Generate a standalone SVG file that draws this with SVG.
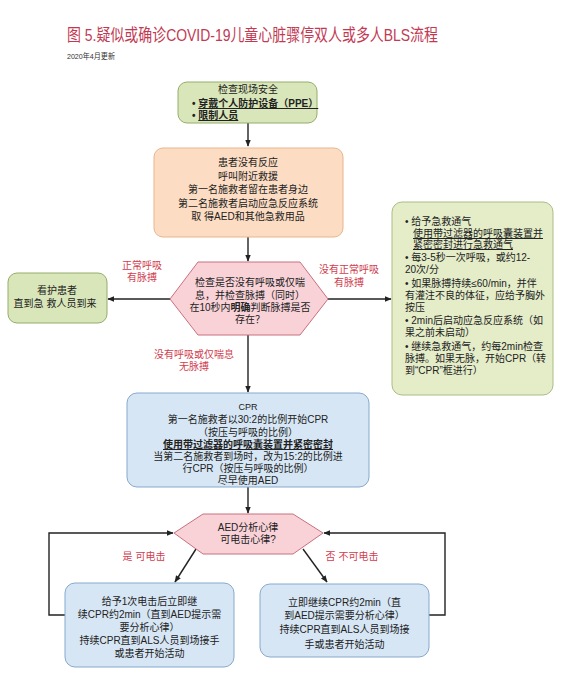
<svg xmlns="http://www.w3.org/2000/svg" width="564" height="691" viewBox="0 0 564 691">
<style>
text{font-family:"Liberation Sans","Noto Sans CJK SC",sans-serif;fill:#222;font-size:10px}
.c{text-anchor:middle}
.red{fill:#d0404f;font-size:10px}
.b{font-weight:bold}
.u{text-decoration:underline}
.green{fill:#d9e6b9;stroke:#94ad6a;stroke-width:1}
.green2{fill:#e4ecc8;stroke:#a9bd84;stroke-width:1}
.orange{fill:#fcdcc2;stroke:#eab58a;stroke-width:1}
.blue{fill:#d6e6f4;stroke:#86a9cd;stroke-width:1}
.pink{fill:#f9d2d8;stroke:#c8707e;stroke-width:1}
.con{fill:none;stroke:#222;stroke-width:1.4}
</style>
<defs>
<marker id="ah" viewBox="0 0 10 10" refX="9" refY="5" markerWidth="7" markerHeight="7" orient="auto" markerUnits="userSpaceOnUse">
<path d="M0,1 L10,5 L0,9 z" fill="#222"/>
</marker>
</defs>
<rect width="564" height="691" fill="#ffffff"/>
<g id="title">
<text x="67" y="41" style="font-size:17px;fill:#c23a52" textLength="371" lengthAdjust="spacingAndGlyphs">图 5.疑似或确诊COVID-19儿童心脏骤停双人或多人BLS流程</text>
<text x="67" y="59" style="font-size:8px;fill:#333" textLength="48" lengthAdjust="spacingAndGlyphs">2020年4月更新</text>
</g>
<g id="connectors">
<path class="con" d="M248,123 V146" marker-end="url(#ah)"/>
<path class="con" d="M248,237 V261" marker-end="url(#ah)"/>
<path class="con" d="M170,299 H108" marker-end="url(#ah)"/>
<path class="con" d="M328,299 H391" marker-end="url(#ah)"/>
<path class="con" d="M248,335 V392" marker-end="url(#ah)"/>
<path class="con" d="M248,487 V513" marker-end="url(#ah)"/>
<path class="con" d="M196,549 L175,582" marker-end="url(#ah)"/>
<path class="con" d="M303,549 L327,582" marker-end="url(#ah)"/>
<path class="con" d="M65,615 H49 V533 H173" marker-end="url(#ah)"/>
<path class="con" d="M429,615 H445 V533 H324" marker-end="url(#ah)"/>
</g>
<g id="safety">
<rect class="green" x="178" y="82" width="139" height="41" rx="9"/>
<text class="c" x="248" y="93">检查现场安全</text>
<text x="192" y="107" class="b">• <tspan class="u">穿戴个人防护设备（PPE）</tspan></text>
<text x="192" y="119" class="b">• <tspan class="u">限制人员</tspan></text>
</g>
<g id="unresponsive">
<rect class="orange" x="154" y="148" width="189" height="89" rx="9"/>
<text class="c" x="248" y="166">患者没有反应</text>
<text class="c" x="248" y="179.5">呼叫附近救援</text>
<text class="c" x="248" y="193">第一名施救者留在患者身边</text>
<text class="c" x="248" y="206.5">第二名施救者启动应急反应系统</text>
<text class="c" x="248" y="220">取 得AED和其他急救用品</text>
</g>
<g id="check">
<polygon class="pink" points="170,299 198,262 300,262 328,299 300,335 198,335"/>
<text class="c" x="250" y="286">检查是否没有呼吸或仅喘</text>
<text class="c" x="250" y="298.5">息，并检查脉搏（同时）</text>
<text class="c" x="250" y="311">在10秒内<tspan class="b">明确</tspan>判断脉搏是否</text>
<text class="c" x="250" y="323">存在？</text>
</g>
<g id="labels1">
<text class="c red" x="142" y="269">正常呼吸</text>
<text class="c red" x="142" y="281">有脉搏</text>
<text class="c red" x="349" y="273">没有正常呼吸</text>
<text class="c red" x="349" y="286">有脉搏</text>
<text class="c red" x="194" y="358">没有呼吸或仅喘息</text>
<text class="c red" x="194" y="370">无脉搏</text>
</g>
<g id="monitor">
<rect class="green" x="8" y="273" width="99" height="50" rx="9"/>
<text class="c" x="57" y="294">看护患者</text>
<text class="c" x="55" y="307">直到急 救人员到来</text>
</g>
<g id="breathing">
<rect class="green2" x="392" y="202" width="161" height="193" rx="10"/>
<text x="405" y="225">• 给予急救通气</text>
<text x="413" y="237" class="u">使用带过滤器的呼吸囊装置并</text>
<text x="413" y="248" class="u">紧密密封进行急救通气</text>
<text x="405" y="261">• 每3-5秒一次呼吸，或约12-</text>
<text x="405" y="273">20次/分</text>
<text x="405" y="287">• 如果脉搏持续≤60/min，并伴</text>
<text x="405" y="299">有灌注不良的体征，应给予胸外</text>
<text x="405" y="311">按压</text>
<text x="405" y="324">• 2min后启动应急反应系统（如</text>
<text x="405" y="336">果之前未启动）</text>
<text x="405" y="350">• 继续急救通气，约每2min检查</text>
<text x="405" y="362">脉搏。如果无脉，开始CPR（转</text>
<text x="405" y="374">到“CPR”框进行）</text>
</g>
<g id="cpr">
<rect class="blue" x="127" y="393" width="242" height="94" rx="10"/>
<text class="c" x="248" y="410" style="font-size:9px">CPR</text>
<text class="c" x="248" y="423">第一名施救者以30:2的比例开始CPR</text>
<text class="c" x="248" y="436">（按压与呼吸的比例）</text>
<text class="c b u" x="248" y="448">使用带过滤器的呼吸囊装置并紧密密封</text>
<text class="c" x="248" y="460">当第二名施救者到场时，改为15:2的比例进</text>
<text class="c" x="248" y="472">行CPR（按压与呼吸的比例）</text>
<text class="c" x="248" y="484">尽早使用AED</text>
</g>
<g id="aed">
<polygon class="pink" points="174,533 203,514 293,514 323,533 293,554 203,554"/>
<text class="c" x="248" y="531">AED分析心律</text>
<text class="c" x="248" y="543">可电击心律?</text>
</g>
<g id="labels2">
<text class="c red" x="144" y="560">是 可电击</text>
<text class="c red" x="352" y="560">否 不可电击</text>
</g>
<g id="shock">
<rect class="blue" x="65" y="583" width="169" height="84" rx="10"/>
<text class="c" x="149.5" y="605">给予1次电击后立即继</text>
<text class="c" x="149.5" y="618">续CPR约2min（直到AED提示需</text>
<text class="c" x="149.5" y="631">要分析心律）</text>
<text class="c" x="149.5" y="644">持续CPR直到ALS人员到场接手</text>
<text class="c" x="149.5" y="657">或患者开始活动</text>
</g>
<g id="noshock">
<rect class="blue" x="260" y="584" width="169" height="73" rx="10"/>
<text class="c" x="344.5" y="606">立即继续CPR约2min（直</text>
<text class="c" x="344.5" y="619">到AED提示需要分析心律）</text>
<text class="c" x="344.5" y="633">持续CPR直到ALS人员到场接</text>
<text class="c" x="344.5" y="648">手或患者开始活动</text>
</g>
</svg>
